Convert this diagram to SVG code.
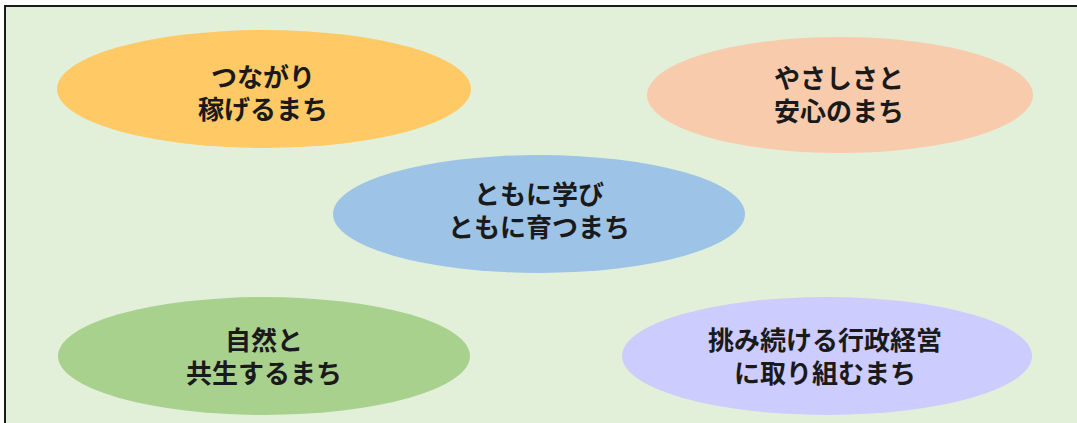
<svg xmlns="http://www.w3.org/2000/svg" width="1077" height="423" viewBox="0 0 1077 423">
<style>
.bg{fill:#E2EFD9;stroke:#1a1a1a;stroke-width:2}
.lbl{font-family:"Noto Sans CJK JP","Noto Sans",sans-serif;font-size:26px;font-weight:bold;fill:#1a1a1a;text-anchor:middle}
</style>
<rect class="bg" x="5" y="6" width="1090" height="440"/>
<g id="node-tsunagari">
<ellipse cx="264" cy="89" rx="207" ry="59" fill="#FFC966"/>
<text class="lbl" x="263" y="87">つながり</text>
<text class="lbl" x="263" y="119">稼げるまち</text>
</g>
<g id="node-yasashisa">
<ellipse cx="840" cy="95" rx="193" ry="58" fill="#F8CBAD"/>
<text class="lbl" x="839" y="88">やさしさと</text>
<text class="lbl" x="839" y="121">安心のまち</text>
</g>
<g id="node-tomoni">
<ellipse cx="539" cy="214" rx="206" ry="59" fill="#9DC3E6"/>
<text class="lbl" x="539" y="204">ともに学び</text>
<text class="lbl" x="539" y="237">ともに育つまち</text>
</g>
<g id="node-shizen">
<ellipse cx="264" cy="356" rx="206" ry="59" fill="#A9D18E"/>
<text class="lbl" x="264" y="350">自然と</text>
<text class="lbl" x="264" y="383">共生するまち</text>
</g>
<g id="node-idomi">
<ellipse cx="827" cy="356" rx="205" ry="59" fill="#CCCCFF"/>
<text class="lbl" x="825" y="350">挑み続ける行政経営</text>
<text class="lbl" x="825" y="383">に取り組むまち</text>
</g>
<g id="connectors"></g>
</svg>
